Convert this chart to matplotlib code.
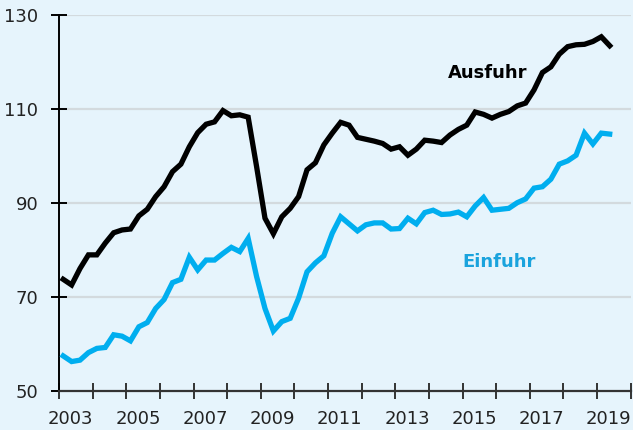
import numpy as np
import matplotlib
matplotlib.use("Agg")
import matplotlib.pyplot as plt

# Quarterly data 2003Q1 .. 2019Q2
start_year = 2003
ausfuhr = [73.7, 72.5, 76.0, 78.9,
           78.9, 81.4, 83.6, 84.2,
           84.4, 87.2, 88.6, 91.3,
           93.4, 96.6, 98.2, 101.9,
           104.9, 106.7, 107.2, 109.6,
           108.5, 108.7, 108.2, 97.7,
           86.7, 83.4, 87.0, 88.8,
           91.3, 97.0, 98.5, 102.3,
           104.8, 107.1, 106.5, 103.9,
           103.5, 103.1, 102.6, 101.4,
           101.9, 100.1, 101.4, 103.3,
           103.1, 102.8, 104.4, 105.6,
           106.5, 109.3, 108.8, 108.0,
           108.8, 109.4, 110.6, 111.2,
           114.0, 117.7, 118.9, 121.6,
           123.2, 123.6, 123.7, 124.3,
           125.3, 123.4]
einfuhr = [57.4, 56.2, 56.5, 58.1,
           59.0, 59.2, 61.9, 61.6,
           60.6, 63.6, 64.5, 67.5,
           69.4, 73.0, 73.7, 78.4,
           75.7, 77.8, 77.8, 79.2,
           80.5, 79.6, 82.4, 74.3,
           67.5, 62.7, 64.7, 65.4,
           69.7, 75.3, 77.2, 78.7,
           83.5, 87.0, 85.5, 84.0,
           85.3, 85.7, 85.7, 84.4,
           84.5, 86.7, 85.5, 87.9,
           88.4, 87.5, 87.6, 88.0,
           87.0, 89.3, 91.1, 88.4,
           88.6, 88.8, 90.0, 90.8,
           93.1, 93.4, 95.0, 98.2,
           98.9, 100.1, 104.8, 102.5,
           104.8, 104.6]
year_labels = ["2003", "2005", "2007", "2009", "2011", "2013", "2015", "2017", "2019"]
y_ticks = [50, 70, 90, 110, 130]

n = len(ausfuhr)
x = start_year + (np.arange(n) + 0.5) / 4.0

bg = "#E6F4FC"
blue = "#00AEEF"

fig = plt.figure(figsize=(6.33, 4.30), dpi=100, facecolor=bg)
ax = fig.add_axes([0.0932, 0.0914, 0.9032, 0.8744])
ax.set_facecolor(bg)

for v in y_ticks[1:]:
    ax.axhline(v, color="#d3dade", lw=1.6, zorder=1)

ax.plot(x, ausfuhr, color="black", lw=3.8, solid_joinstyle="miter", zorder=3)
ax.plot(x, einfuhr, color=blue, lw=3.8, solid_joinstyle="miter", zorder=3)

ax.set_xlim(2003, 2020)
ax.set_ylim(50, 130)

ax.set_yticks(y_ticks)
ax.set_yticklabels([str(v) for v in y_ticks])
ax.set_xticks(np.arange(2003, 2021))
ax.set_xticklabels([])
ax.set_xticks([int(t) + 0.35 for t in year_labels], minor=True)
ax.set_xticklabels(year_labels, minor=True)

ax.tick_params(axis="y", direction="inout", length=12, width=1.4, color="black",
               labelsize=13, labelcolor="#222222", pad=9)
ax.tick_params(axis="x", which="major", direction="inout", length=12, width=1.4,
               color="#333333")
ax.tick_params(axis="x", which="minor", length=0, labelsize=13,
               labelcolor="#222222", pad=14)

for s in ["top", "right"]:
    ax.spines[s].set_visible(False)
ax.spines["left"].set_color("black")
ax.spines["left"].set_linewidth(1.4)
ax.spines["bottom"].set_color("#333333")
ax.spines["bottom"].set_linewidth(1.6)

ax.text(2015.74, 117.7, "Ausfuhr", color="black", fontsize=13, fontweight="bold",
        ha="center", va="center")
ax.text(2016.1, 77.4, "Einfuhr", color="#1AA3DD", fontsize=13, fontweight="bold",
        ha="center", va="center")

fig.savefig("out.png", dpi=100, facecolor=bg)
